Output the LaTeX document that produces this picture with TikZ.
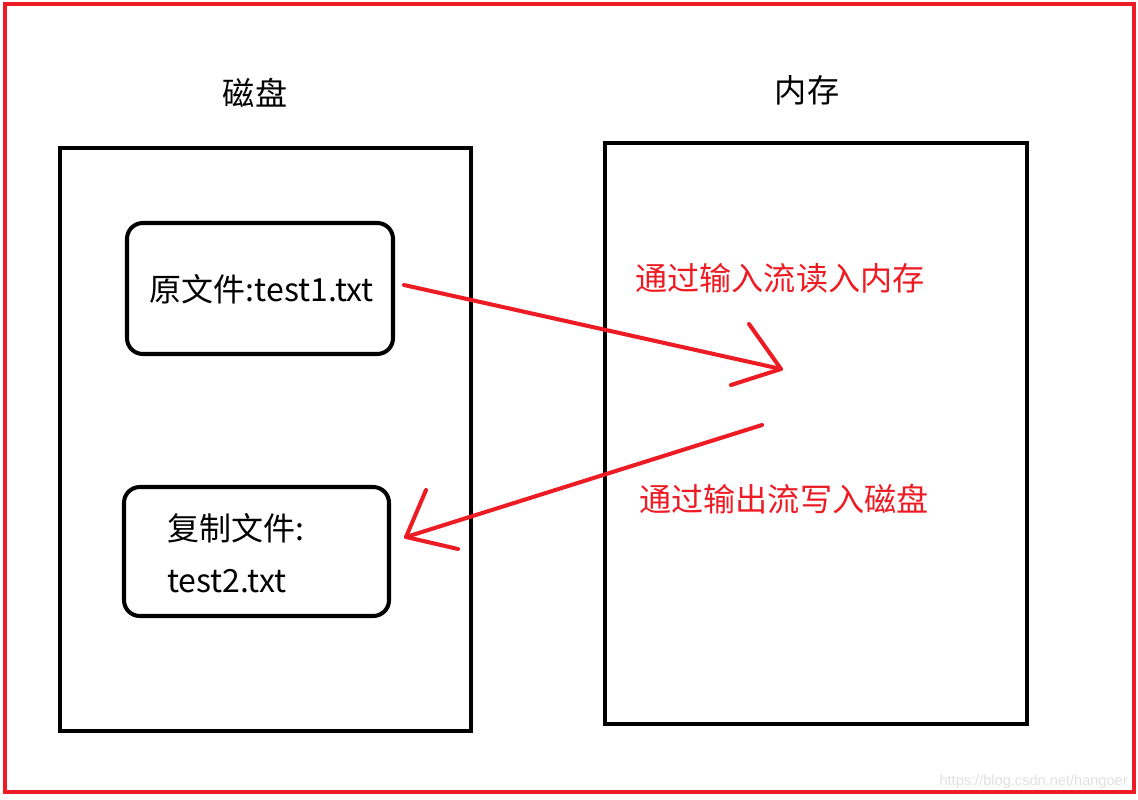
\documentclass[tikz,border=0pt]{standalone}
\usepackage{fontspec}
\setmainfont{Noto Sans CJK SC}
\newfontfamily\wmfont{Liberation Sans}
\definecolor{penred}{RGB}{237,28,36}
\tikzset{
  bigbox/.style={draw=black, line width=2.3pt},
  filebox/.style={draw=black, line width=2.3pt, rounded corners=9pt},
  redline/.style={draw=penred, line width=2.3pt, line cap=round, line join=round},
  title/.style={font=\fontsize{18.3}{22}\selectfont, inner sep=0pt},
  filetext/.style={font=\fontsize{18.2}{22}\selectfont, inner sep=0pt},
  streamtext/.style={font=\fontsize{18.3}{22}\selectfont, text=penred, inner sep=0pt, anchor=west}
}
\begin{document}
\begin{tikzpicture}[x=0.02cm, y=-0.02cm]
		\useasboundingbox (0,0) rectangle (1138,800);
		\draw[penred, line width=2.3pt] (5,4) rectangle (1134,792);
		
		% disk and memory
		\draw[bigbox] (60,148) rectangle (471,731);
		\draw[bigbox] (605,143) rectangle (1027,724);
		\node[title] (disk) at (255,93) {磁盘};
		\node[title] (mem) at (807,90) {内存};
		
		% files
		\draw[filebox] (127,223) rectangle (393,354);
		\draw[filebox] (124,487) rectangle (389,616);
		\node[filetext] (src) at (262,289) {原文件:test1.txt};
		\node[filetext, anchor=west] (dst) at (167,528) {复制文件:};
		\node[filetext, anchor=west] (dstname) at (167,581) {test2.txt};
		
		% streams
		\coordinate (inStart) at (404,285);
		\coordinate (inTip) at (781,369);
		\coordinate (inArmA) at (749,324);
		\coordinate (inArmB) at (731,385);
		\draw[redline] (inStart) -- (inTip);
		\draw[redline] (inArmA) -- (inTip) -- (inArmB);
		
		\coordinate (outStart) at (762,425);
		\coordinate (outTip) at (406,537);
		\coordinate (outArmA) at (426,490);
		\coordinate (outArmB) at (458,549);
		\draw[redline] (outStart) -- (outTip);
		\draw[redline] (outArmA) -- (outTip) -- (outArmB);
		
		\node[streamtext] (readlbl) at (635,278) {通过输入流读入内存};
		\node[streamtext] (writelbl) at (639,499) {通过输出流写入磁盘};
		
		\node[font=\wmfont\fontsize{8.3}{10}\selectfont, text=black!12, anchor=east, inner sep=0pt] (wm) at (1128,782) {https://blog.csdn.net/hangoer};
	\end{tikzpicture}
\end{document}
